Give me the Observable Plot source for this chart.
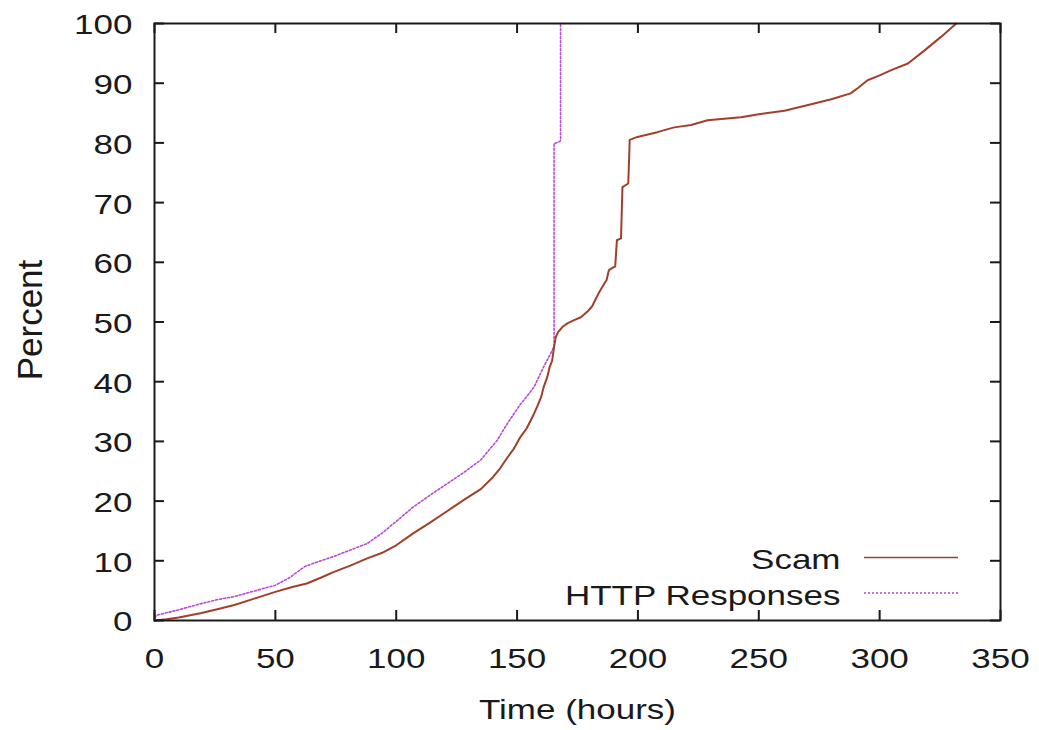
<!DOCTYPE html>
<html><head><meta charset="utf-8">
<script src="https://cdn.jsdelivr.net/npm/d3@7"></script>
<script src="https://cdn.jsdelivr.net/npm/@observablehq/plot@0.6"></script>
<style>html,body{margin:0;padding:0;background:#fff;} svg{display:block}</style>
</head><body><div id="chart"></div>
<script>
// ---- data ----
const seriesNames = ["Scam", "HTTP Responses"];
const seriesColors = ["#a0402a", "#b44ad8"];

const scamHours = [0, 5, 10, 19, 26, 33, 40, 50, 57, 63, 69, 74, 81, 88, 94, 100, 107, 114, 121, 128, 135, 140, 143, 146, 148.7, 151, 154, 156.5, 158.4, 160, 161, 162.5, 163.5, 164.5, 165.3, 166, 167, 168.8, 171, 173.6, 176.4, 179, 181, 182.6, 184, 185.3, 187, 188, 190, 190.6, 191.3, 193, 193.6, 196, 196.6, 199.8, 208, 215, 222, 228.8, 242.6, 250, 260.6, 270, 280, 288, 291, 295, 300, 304.8, 311.7, 318.6, 325.5, 331.7];
const scamPct   = [0, 0.2, 0.5, 1.2, 1.9, 2.6, 3.5, 4.8, 5.6, 6.2, 7.2, 8.1, 9.2, 10.4, 11.3, 12.6, 14.6, 16.4, 18.3, 20.2, 22.0, 24.0, 25.5, 27.3, 28.8, 30.5, 32.2, 34.2, 35.9, 37.5, 39.1, 40.8, 42.5, 43.5, 45.8, 47.5, 48.3, 49.2, 49.8, 50.3, 50.8, 51.7, 52.6, 53.9, 55.0, 55.9, 57.0, 58.7, 59.2, 59.3, 63.7, 64.0, 72.6, 73.2, 80.5, 81.0, 81.8, 82.6, 83.0, 83.8, 84.3, 84.8, 85.4, 86.3, 87.3, 88.3, 89.2, 90.5, 91.3, 92.2, 93.3, 95.5, 97.8, 100];

const httpHours = [0, 1, 10, 19, 26, 33, 40, 50, 56, 62, 68, 74, 81, 88, 94, 100, 107, 114, 121, 128, 135, 141.8, 146, 151.5, 154, 157, 161, 163, 164.6, 165.3, 165.3, 167.5, 168, 168];
const httpPct   = [0.5, 0.9, 1.8, 2.8, 3.5, 4.0, 4.8, 5.9, 7.2, 9.0, 9.9, 10.7, 11.8, 12.9, 14.6, 16.6, 19.0, 21.0, 22.9, 24.8, 26.9, 30.2, 33.0, 36.3, 37.5, 39.1, 42.5, 44.0, 45.3, 46.0, 79.9, 80.2, 80.4, 100];

const xTicks = [0, 50, 100, 150, 200, 250, 300, 350];
const yTicks = [0, 10, 20, 30, 40, 50, 60, 70, 80, 90, 100];
const xLabel = "Time (hours)";
const yLabel = "Percent";

// ---- build tables ----
const scam = scamHours.map((h, i) => ({h, p: scamPct[i]}));
const http = httpHours.map((h, i) => ({h, p: httpPct[i]}));

const W = 1039, H = 730, mL = 154, mR = 39, mT = 23, mB = 110;
const innerW = W - mL - mR, innerH = H - mT - mB;
const font = "'Liberation Sans', Arial, Helvetica, sans-serif";
const ink = "#1a1a1a";
const lineSymbol = {draw(ctx) { ctx.moveTo(-47, 0); ctx.lineTo(47, 0); }};

const chart = Plot.plot({
  width: W, height: H,
  marginLeft: mL, marginRight: mR, marginTop: mT, marginBottom: mB,
  style: {fontFamily: font, background: "#fff", color: ink},
  x: {domain: [0, 350], axis: null},
  y: {domain: [0, 100], axis: null},
  marks: [
    // data
    Plot.line(http, {x: "h", y: "p", stroke: seriesColors[1], strokeWidth: 1.6, strokeDasharray: "2,2"}),
    Plot.line(scam, {x: "h", y: "p", stroke: seriesColors[0], strokeWidth: 2}),
    // ticks on all four sides, pointing inward
    Plot.tickX(xTicks, {x: d => d, insetTop: innerH - 10, stroke: ink, strokeWidth: 2}),
    Plot.tickX(xTicks, {x: d => d, insetBottom: innerH - 10, stroke: ink, strokeWidth: 2}),
    Plot.tickY(yTicks, {y: d => d, insetRight: innerW - 10, stroke: ink, strokeWidth: 2}),
    Plot.tickY(yTicks, {y: d => d, insetLeft: innerW - 10, stroke: ink, strokeWidth: 2}),
    // tick labels
    Plot.text(xTicks, {x: d => d, text: d => String(d), frameAnchor: "bottom", lineAnchor: "top", dy: 28, fontSize: 35, fill: ink}),
    Plot.text(yTicks, {y: d => d, text: d => String(d), frameAnchor: "left", textAnchor: "end", lineAnchor: "middle", dx: -22, dy: 2, fontSize: 35, fill: ink}),
    // axis titles
    Plot.text([xLabel], {text: d => d, frameAnchor: "bottom", lineAnchor: "bottom", dy: 98, fontSize: 35, fill: ink}),
    Plot.text([yLabel], {text: d => d, frameAnchor: "left", rotate: -90, lineAnchor: "middle", textAnchor: "middle", dx: -124, dy: -2, fontSize: 35, fill: ink}),
    // legend (bottom-right, inside the frame)
    Plot.text([seriesNames[0]], {text: d => d, frameAnchor: "bottom-right", textAnchor: "end", lineAnchor: "bottom", dx: -160, dy: -52, fontSize: 35, fill: ink}),
    Plot.text([seriesNames[1]], {text: d => d, frameAnchor: "bottom-right", textAnchor: "end", lineAnchor: "bottom", dx: -160, dy: -16, fontSize: 35, fill: ink}),
    Plot.dot([seriesNames[0]], {frameAnchor: "bottom-right", symbol: lineSymbol, fill: "none", stroke: seriesColors[0], strokeWidth: 1.6, dx: -89.5, dy: -63}),
    Plot.dot([seriesNames[1]], {frameAnchor: "bottom-right", symbol: lineSymbol, fill: "none", stroke: seriesColors[1], strokeWidth: 1.4, strokeDasharray: "2,2", dx: -89.5, dy: -27.5}),
    Plot.frame({stroke: ink, strokeWidth: 2})
  ]
});

// The reference's horizontal lettering is vertically compressed (wide glyphs); mimic it.
chart.querySelectorAll("text").forEach(t => {
  const tr = t.getAttribute("transform") || "";
  if (!tr.includes("rotate")) t.setAttribute("transform", (tr + " scale(1,0.8)").trim());
});

document.getElementById("chart").appendChild(chart);
</script>
</body></html>
